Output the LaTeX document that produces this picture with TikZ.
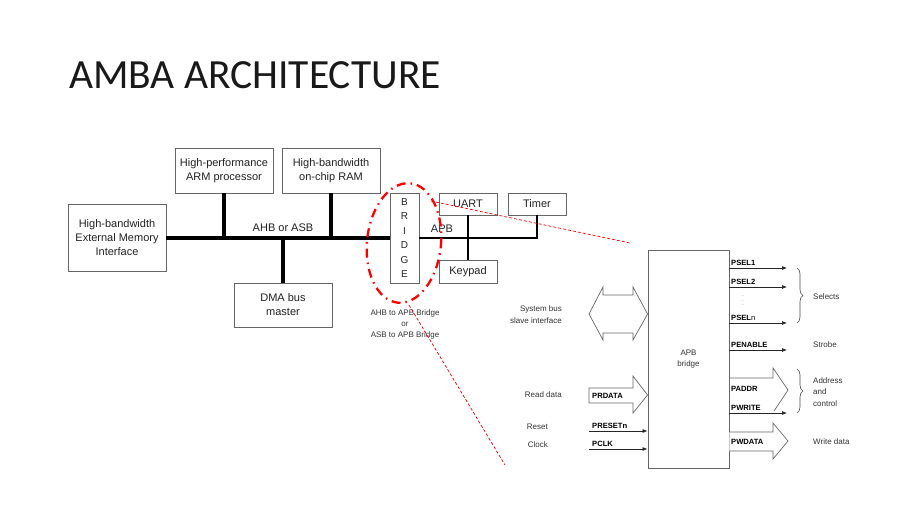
\documentclass[tikz,border=0pt]{standalone}
\usepackage{fontspec}
\setmainfont{Liberation Sans}
\newfontfamily\titlefont{Carlito}
\usetikzlibrary{arrows.meta,calc,decorations.pathreplacing}
\definecolor{boxline}{HTML}{666666}
\definecolor{txt}{HTML}{222222}
\definecolor{sigtxt}{HTML}{333333}
\tikzset{
  box/.style={draw=boxline,line width=0.9pt,fill=white,align=center,text=txt,
    font=\fontsize{11}{14}\selectfont,inner sep=0pt},
  ahb/.style={line width=4pt,black},
  apbline/.style={line width=2pt,black},
  lbl/.style={text=txt,font=\fontsize{11}{13}\selectfont,inner sep=0pt},
  small/.style={text=sigtxt,font=\fontsize{8}{11.5}\selectfont,inner sep=0pt,align=left},
  smallr/.style={text=sigtxt,font=\fontsize{8}{12}\selectfont,inner sep=0pt,align=right},
  sname/.style={text=black,font=\bfseries\fontsize{7.6}{9}\selectfont,inner sep=0pt,anchor=west},
  sig/.style={draw=black!85,line width=0.7pt,-{Latex[length=5pt,width=4pt]}},
  fat/.style={draw=boxline,line width=0.7pt,fill=white,line join=miter},
  callout/.style={red,line width=0.7pt,dash pattern=on 3pt off 2pt},
  ring/.style={red,line width=2.3pt,dash pattern=on 9pt off 5pt on 1.5pt off 5pt},
  brc/.style={draw=black!70,line width=0.6pt,decorate,decoration={brace,amplitude=6pt}}
}
\begin{document}
\begin{tikzpicture}[x=1pt,y=-1pt]
\useasboundingbox[fill=white] (0,0) rectangle (919,517);
% title
\node[anchor=base west,inner sep=0pt,font=\titlefont\fontsize{41.5}{44}\selectfont,text=black!90] (title) at (69,88) {AMBA ARCHITECTURE};

% left diagram boxes
\node[box,minimum width=98pt,minimum height=67pt] (mem) at (117,238) {High-bandwidth\\External Memory\\Interface};
\node[box,minimum width=98pt,minimum height=45pt] (arm) at (224,170.5) {High-performance\\ARM processor};
\node[box,minimum width=98pt,minimum height=45pt] (ram) at (331,170.5) {High-bandwidth\\on-chip RAM};
\node[box,minimum width=98pt,minimum height=44pt] (dma) at (283,305) {DMA bus\\master};
\node[box,minimum width=29pt,minimum height=90pt,font=\fontsize{10}{14.4}\selectfont] (bridge) at (404.5,238) {B\\R\\I\\D\\G\\E};
\node[box,minimum width=58pt,minimum height=22pt] (uart) at (468,204) {UART};
\node[box,minimum width=58pt,minimum height=22pt] (timer) at (537,204) {Timer};
\node[box,minimum width=58pt,minimum height=23pt] (keypad) at (468,271.5) {Keypad};

% buses
\draw[ahb] (mem.east) -- (bridge.west);
\draw[ahb] (arm.south) -- (arm.south |- mem.east);
\draw[ahb] (ram.south) -- (ram.south |- mem.east);
\draw[ahb] (dma.north) -- (dma.north |- mem.east);
\draw[apbline] (bridge.east) -- (timer.south |- bridge.east) -- (timer.south);
\draw[apbline] (uart.south) -- (keypad.north);
\node[lbl] (ahblbl) at (283,228) {AHB or ASB};
\node[lbl] (apblbl) at (442,229) {APB};
\node[small,align=center,font=\fontsize{8}{11}\selectfont] (brnote) at (405,324) {AHB to APB Bridge\\or\\ASB to APB Bridge};

% red highlight
\draw[ring,rotate around={-6:(404,243)}] (404,243) ellipse [x radius=37pt,y radius=60pt];
\coordinate (c1a) at (431,201);
\coordinate (c1b) at (630,243);
\coordinate (c2a) at (409,305);
\coordinate (c2b) at (505,465);
\draw[callout] (c1a) -- (c1b);
\draw[callout] (c2a) -- (c2b);

% right diagram
\node[box,minimum width=81pt,minimum height=218pt,font=\fontsize{8}{11.5}\selectfont,text=sigtxt] (apbb) at (688.5,359) {APB\\bridge};

% system bus slave interface double arrow
\draw[fat] (589,314) -- (603,287) -- (603,295) -- (633,295) -- (633,287) -- (apbb.west |- 0,314)
  -- (633,340) -- (633,333) -- (603,333) -- (603,340) -- cycle;
\node[smallr,anchor=east] (sbl) at (562,315) {System bus\\slave interface};

% PRDATA
\draw[fat] (589,388) -- (633,388) -- (633,376) -- (apbb.west |- 0,395) -- (633,413) -- (633,403) -- (589,403) -- cycle;
\node[sname] (prdata) at (592,396) {PRDATA};
\node[smallr,anchor=east] (rdl) at (562,395) {Read data};

% PRESETn, PCLK
\coordinate (rst) at (589,431);
\coordinate (clk) at (589,449);
\draw[sig] (rst) -- (apbb.west |- rst);
\draw[sig] (clk) -- (apbb.west |- clk);
\node[sname] (presetn) at (592,425.5) {PRESETn};
\node[sname] (pclk) at (592,443.5) {PCLK};
\node[smallr,anchor=east] (rstl) at (548,427) {Reset};
\node[smallr,anchor=east] (clkl) at (548,445) {Clock};

% outputs
\coordinate (e1) at (787,268);
\coordinate (e2) at (787,287);
\coordinate (e3) at (787,323);
\coordinate (e4) at (787,350);
\coordinate (e5) at (787,413);
\draw[sig] (apbb.east |- e1) -- (e1);
\draw[sig] (apbb.east |- e2) -- (e2);
\draw[sig] (apbb.east |- e3) -- (e3);
\draw[sig] (apbb.east |- e4) -- (e4);
\draw[sig] (apbb.east |- e5) -- (e5);
\node[sname] (psel1) at (731,262.5) {PSEL1};
\node[sname] (psel2) at (731,281.5) {PSEL2};
\node[sname] (pseln) at (731,317.5) {PSEL{\mdseries n}};
\node[sname] (penable) at (731,344.5) {PENABLE};
\node[sname] (pwrite) at (731,407.5) {PWRITE};
\node[text=black!60,font=\fontsize{6}{4.5}\selectfont,align=center,inner sep=0pt] (vdots) at (743,301) {.\\.\\.};

% PADDR
\draw[fat] (apbb.east |- 0,378) -- (773,378) -- (773,368) -- (788,390) -- (774,411);
\node[sname] (paddr) at (731,389) {PADDR};
% PWDATA
\draw[fat] (apbb.east |- 0,432) -- (773,432) -- (773,423) -- (788,441) -- (773,459) -- (773,451) -- (apbb.east |- 0,451);
\node[sname] (pwdata) at (731,442) {PWDATA};

% braces
\draw[brc] (797,268) -- (797,323);
\draw[brc] (797,369) -- (797,413);
\node[small,anchor=west] (sel) at (813,297) {Selects};
\node[small,anchor=west] (strobe) at (813,345) {Strobe};
\node[small,anchor=west] (addr) at (813,392) {Address\\and\\control};
\node[small,anchor=west] (wdata) at (813,442) {Write data};
\end{tikzpicture}
\end{document}
